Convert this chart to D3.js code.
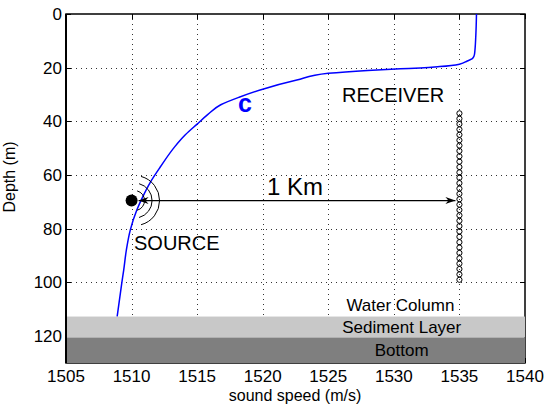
<!DOCTYPE html>
<html>
<head>
<meta charset="utf-8">
<script src="https://cdn.jsdelivr.net/npm/d3@7"></script>
<style>
  body { margin: 0; background: #fff; }
  svg { display: block; font-family: "Liberation Sans", Arial, sans-serif; }
</style>
</head>
<body>
<script>
// --- Data ---
// sound speed profile: depth (m) and speed (m/s)
const profileDepth = [0, 8, 15, 16.6, 17.5, 18.7, 19.6, 20.1, 20.4, 21.0, 22.1, 24.6, 28.0, 31.0, 33.8, 37.5, 41.0, 45.0, 49.4, 56.9, 62.5, 68.1, 73.0, 80.5, 88.0, 95.4, 100.3, 112.7];
const profileSpeed = [1536.3, 1536.25, 1536.15, 1536.0, 1535.6, 1535.0, 1533.5, 1532.0, 1530.5, 1528.0, 1525.0, 1522.6, 1520.0, 1518.2, 1516.8, 1515.8, 1515.0, 1514.1, 1513.3, 1512.2, 1511.45, 1510.85, 1510.4, 1509.9, 1509.6, 1509.4, 1509.25, 1508.9];

// receiver array (vertical line of hydrophones)
const receiverSpeed = 1535;
const receiverDepths = d3.range(37, 100, 2);

// source position
const sourceSpeed = 1510;
const sourceDepth = 69.5;

// seabed layers: [name, top depth, bottom depth]
const layerNames = ["Sediment Layer", "Bottom"];
const layerTops = [112.7, 120.5];
const layerBottoms = [120.5, 130];

const xTicks = [1505, 1510, 1515, 1520, 1525, 1530, 1535, 1540];
const yTicks = [0, 20, 40, 60, 80, 100, 120];

// --- Setup ---
const width = 547, height = 406;
const x = d3.scaleLinear().domain([1505, 1540]).range([66, 525]);
const y = d3.scaleLinear().domain([0, 130]).range([14, 363]);

const svg = d3.select("body").append("svg")
  .attr("width", width)
  .attr("height", height);

// dotted grid
const grid = svg.append("g").attr("stroke", "#333").attr("stroke-width", 1)
  .attr("stroke-dasharray", "1,4");
grid.selectAll(".gx").data(xTicks.slice(1, -1)).join("line")
  .attr("x1", d => Math.round(x(d)) + 0.5).attr("x2", d => Math.round(x(d)) + 0.5)
  .attr("y1", y(0)).attr("y2", y(130));
grid.selectAll(".gy").data(yTicks.slice(1)).join("line")
  .attr("y1", d => Math.round(y(d)) + 0.5).attr("y2", d => Math.round(y(d)) + 0.5)
  .attr("x1", x(1505)).attr("x2", x(1540));

// inward tick marks on all four sides
const tickLen = 5;
const ticks = svg.append("g").attr("stroke", "#000").attr("stroke-width", 1);
xTicks.forEach(v => {
  const px = Math.round(x(v)) + 0.5;
  ticks.append("line").attr("x1", px).attr("x2", px).attr("y1", y(0)).attr("y2", y(0) + tickLen);
  ticks.append("line").attr("x1", px).attr("x2", px).attr("y1", y(130)).attr("y2", y(130) - tickLen);
});
yTicks.forEach(v => {
  const py = Math.round(y(v)) + 0.5;
  ticks.append("line").attr("y1", py).attr("y2", py).attr("x1", x(1505)).attr("x2", x(1505) + tickLen);
  ticks.append("line").attr("y1", py).attr("y2", py).attr("x1", x(1540)).attr("x2", x(1540) - tickLen);
});

// box
svg.append("rect")
  .attr("x", x(1505)).attr("y", y(0))
  .attr("width", x(1540) - x(1505)).attr("height", y(130) - y(0))
  .attr("fill", "none").attr("stroke", "#000").attr("stroke-width", 1.5);

// sound speed profile
const profile = profileDepth.map((d, i) => ({ depth: d, speed: profileSpeed[i] }));
svg.append("path")
  .datum(profile)
  .attr("fill", "none")
  .attr("stroke", "#0000ff")
  .attr("stroke-width", 1.5)
  .attr("d", d3.line().x(d => x(d.speed)).y(d => y(d.depth)).curve(d3.curveMonotoneY));

// seabed layers (cover grid and bottom axis)
const layerColors = ["#c8c8c8", "#7f7f7f"];
svg.selectAll(".layer").data(layerNames).join("rect")
  .attr("x", x(1505)).attr("width", x(1540) - x(1505))
  .attr("y", (d, i) => y(layerTops[i]))
  .attr("height", (d, i) => y(layerBottoms[i]) - y(layerTops[i]))
  .attr("fill", (d, i) => layerColors[i]);
svg.append("line")
  .attr("x1", x(1505)).attr("x2", x(1505)).attr("y1", y(0)).attr("y2", y(130))
  .attr("stroke", "#000").attr("stroke-width", 2);

// layer labels
svg.append("text").attr("x", x(1530.5)).attr("y", y(110.5))
  .attr("text-anchor", "middle").attr("font-size", 17).text("Water Column");
svg.selectAll(".layerLabel").data(layerNames).join("text")
  .attr("x", x(1530.6))
  .attr("y", (d, i) => (y(layerTops[i]) + y(layerBottoms[i])) / 2 + 6)
  .attr("text-anchor", "middle").attr("font-size", 17)
  .text(d => d);

// receivers
svg.append("g").selectAll("circle").data(receiverDepths).join("circle")
  .attr("cx", x(receiverSpeed)).attr("cy", d => y(d))
  .attr("r", 2.6)
  .attr("fill", "none").attr("stroke", "#000").attr("stroke-width", 1);

// source dot and wave arcs
const sx = x(sourceSpeed), sy = y(sourceDepth);
svg.append("circle").attr("cx", sx).attr("cy", sy).attr("r", 6).attr("fill", "#000");
[10, 17.5, 25].forEach(r => {
  const p = d3.path();
  const a = 75 * Math.PI / 180;
  p.arc(sx + 3, sy, r, -a, a);
  svg.append("path").attr("d", p.toString()).attr("fill", "none")
    .attr("stroke", "#000").attr("stroke-width", 1);
});

// double-headed range arrow
const ax1 = sx + 7, ax2 = x(receiverSpeed) - 4;
svg.append("line").attr("x1", ax1).attr("x2", ax2).attr("y1", sy).attr("y2", sy)
  .attr("stroke", "#000").attr("stroke-width", 1.2);
function head(tx, dir) {
  // dir = +1 points right, -1 points left
  const l = 10, w = 3.5, n = 7;
  return `M${tx},${sy} L${tx - dir * l},${sy - w} L${tx - dir * n},${sy} L${tx - dir * l},${sy + w} Z`;
}
svg.append("path").attr("d", head(ax2, 1)).attr("fill", "#000");
svg.append("path").attr("d", head(ax1, -1)).attr("fill", "#000");

// annotations
svg.append("text").attr("x", 267).attr("y", sy - 6).attr("font-size", 24).text("1 Km");
svg.append("text").attr("x", 134).attr("y", 250).attr("font-size", 20).text("SOURCE");
svg.append("text").attr("x", 342).attr("y", 102).attr("font-size", 20).text("RECEIVER");
svg.append("text").attr("x", 245).attr("y", 112).attr("text-anchor", "middle")
  .attr("font-size", 25).attr("font-weight", "bold").attr("fill", "#0000ff").text("c");

// tick labels
svg.append("g").selectAll("text").data(xTicks).join("text")
  .attr("x", d => x(d)).attr("y", 382)
  .attr("text-anchor", "middle").attr("font-size", 17).text(d => d);
svg.append("g").selectAll("text").data(yTicks).join("text")
  .attr("x", 62).attr("y", d => y(d)).attr("dy", "0.35em")
  .attr("text-anchor", "end").attr("font-size", 17).text(d => d);

// axis labels
svg.append("text").attr("x", 295).attr("y", 401)
  .attr("text-anchor", "middle").attr("font-size", 16).text("sound speed (m/s)");
svg.append("text").attr("transform", "translate(15,177) rotate(-90)")
  .attr("text-anchor", "middle").attr("font-size", 16).text("Depth (m)");
</script>
</body>
</html>
